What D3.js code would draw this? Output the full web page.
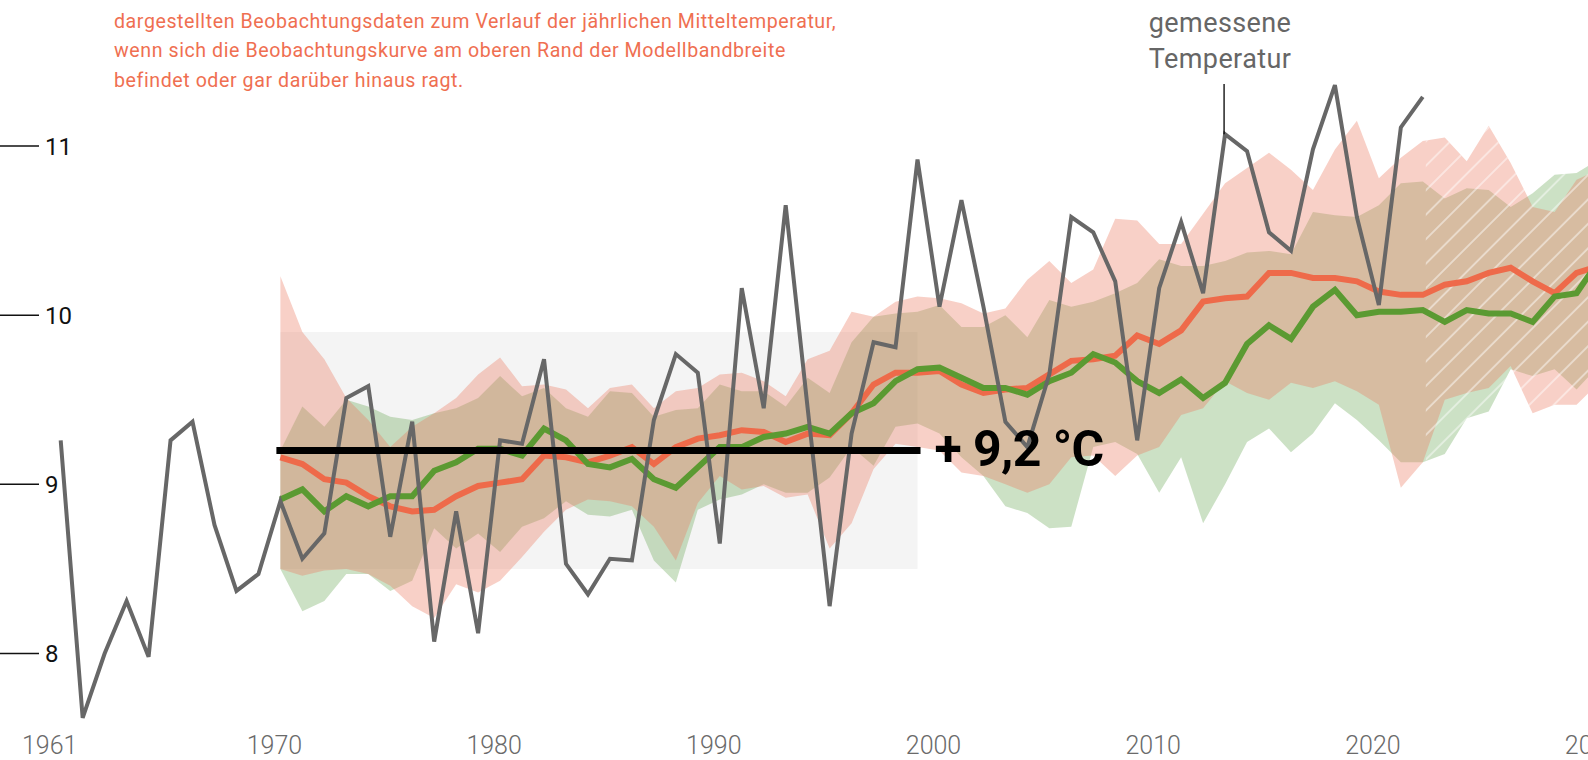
<!DOCTYPE html>
<html><head><meta charset="utf-8">
<script src="https://cdn.jsdelivr.net/npm/d3@7"></script>
<style>
html,body{margin:0;padding:0;background:#fff;overflow:hidden}
svg{display:block;font-family:Roboto,"DejaVu Sans",sans-serif}
</style></head><body>
<svg id="chart" width="1588" height="760"></svg>
<script>
// ---------- DATA ----------
const obsStart = 1961;
const observed = [9.26,7.62,8.00,8.31,7.98,9.26,9.37,8.76,8.37,8.47,
  8.90,8.56,8.71,9.51,9.58,8.69,9.37,8.07,8.84,8.12,
  9.26,9.24,9.74,8.53,8.35,8.56,8.55,9.38,9.77,9.66,
  8.65,10.16,9.45,10.65,9.45,8.28,9.30,9.84,9.81,10.92,
  10.05,10.68,10.05,9.37,9.22,9.65,10.58,10.49,10.20,9.26,
  10.16,10.55,10.13,11.07,10.97,10.49,10.38,10.98,11.36,10.58,
  10.06,11.11,11.29];

const modelStart = 1971;
const orangeMean = [9.16,9.12,9.03,9.01,8.93,8.87,8.84,8.85,8.93,8.99,
  9.01,9.03,9.17,9.16,9.13,9.17,9.22,9.12,9.22,9.27,
  9.29,9.32,9.31,9.25,9.30,9.29,9.42,9.59,9.66,9.66,
  9.67,9.59,9.54,9.56,9.57,9.65,9.73,9.74,9.76,9.88,
  9.83,9.91,10.08,10.10,10.11,10.25,10.25,10.22,10.22,10.20,
  10.14,10.12,10.12,10.18,10.20,10.25,10.28,10.20,10.13,10.25,10.29];
const greenMean = [8.91,8.97,8.84,8.93,8.87,8.93,8.93,9.08,9.13,9.21,
  9.21,9.17,9.33,9.26,9.12,9.10,9.15,9.03,8.98,9.10,
  9.22,9.22,9.28,9.30,9.34,9.30,9.42,9.48,9.61,9.68,
  9.69,9.63,9.57,9.57,9.53,9.61,9.66,9.77,9.72,9.61,
  9.54,9.62,9.51,9.60,9.83,9.94,9.86,10.05,10.15,10.00,
  10.02,10.02,10.03,9.96,10.03,10.01,10.01,9.96,10.11,10.13,10.32];
const orangeUpper = [10.23,9.90,9.74,9.51,9.38,9.22,9.34,9.42,9.51,9.65,
  9.75,9.58,9.59,9.56,9.45,9.57,9.59,9.45,9.55,9.57,
  9.65,9.66,9.61,9.52,9.74,9.79,10.02,9.99,10.08,10.11,
  10.10,10.07,10.01,10.04,10.21,10.32,10.19,10.27,10.57,10.56,
  10.42,10.42,10.60,10.78,10.87,10.96,10.86,10.74,10.98,11.15,
  10.81,10.93,11.03,11.05,10.91,11.12,10.90,10.64,10.61,10.80,10.86];
const orangeLower = [8.50,8.46,8.49,8.50,8.47,8.40,8.28,8.21,8.41,8.36,
  8.43,8.57,8.72,8.85,8.91,8.90,8.87,8.75,8.55,8.89,
  9.05,8.97,8.99,8.92,8.94,8.62,8.77,9.09,9.24,9.22,
  9.20,9.07,9.05,9.00,8.95,9.00,9.16,9.17,9.05,9.17,
  9.22,9.41,9.45,9.61,9.54,9.50,9.60,9.57,9.61,9.55,
  9.47,8.98,9.13,9.50,9.54,9.57,9.70,9.42,9.47,9.47,9.60];
const greenUpper = [9.20,9.46,9.34,9.50,9.46,9.40,9.38,9.42,9.45,9.51,
  9.64,9.52,9.57,9.45,9.40,9.55,9.54,9.40,9.44,9.45,
  9.59,9.55,9.55,9.46,9.63,9.54,9.84,9.99,10.01,10.02,
  10.06,9.93,9.93,10.00,9.87,10.09,10.05,10.08,10.13,10.19,
  10.33,10.29,10.29,10.32,10.37,10.38,10.36,10.61,10.59,10.58,
  10.65,10.78,10.79,10.69,10.75,10.74,10.64,10.72,10.83,10.84,10.92];
const greenLower = [8.50,8.25,8.31,8.47,8.47,8.37,8.43,8.74,8.62,8.71,
  8.60,8.75,8.80,8.90,8.82,8.81,8.85,8.55,8.42,8.85,
  8.91,8.94,9.00,8.95,8.95,9.04,9.22,9.11,9.34,9.36,
  9.30,9.16,9.05,8.87,8.83,8.74,8.75,9.22,9.25,9.18,
  8.95,9.16,8.77,9.00,9.25,9.33,9.19,9.30,9.48,9.38,
  9.26,9.13,9.13,9.18,9.39,9.43,9.68,9.64,9.68,9.56,9.70];

const refPeriod = [1971, 2000];
const refMean = 9.2;
const refBox = [8.5, 9.9];
const projectionStart = 2023;
const annotYear = 2014;

const yTicks = [8, 9, 10, 11];
const xTickYears = [1961, 1970, 1980, 1990, 2000, 2010, 2020, 2030];
const xTickLabels = ["1961", "1970", "1980", "1990", "2000", "2010", "2020", "2030"];
const textLines = [
  "dargestellten Beobachtungsdaten zum Verlauf der jährlichen Mitteltemperatur,",
  "wenn sich die Beobachtungskurve am oberen Rand der Modellbandbreite",
  "befindet oder gar darüber hinaus ragt."
];

// ---------- CHART ----------
const svg = d3.select("#chart");
const W = 1588, H = 760;
const x = d3.scaleLinear().domain([1961, 2023]).range([60.7, 1422.8]);
const y = d3.scaleLinear().domain([8, 11]).range([653.5, 146]);

const obs = observed.map((v, i) => ({year: obsStart + i, v}));
const model = orangeMean.map((v, i) => ({
  year: modelStart + i, om: v, gm: greenMean[i],
  ou: orangeUpper[i], ol: orangeLower[i], gu: greenUpper[i], gl: greenLower[i]
}));

const defs = svg.append("defs");
const pat = defs.append("pattern").attr("id", "hatch")
  .attr("patternUnits", "userSpaceOnUse").attr("width", 17.3).attr("height", 17.3)
  .attr("patternTransform", "rotate(45)");
pat.append("line").attr("x1", 1).attr("y1", 0).attr("x2", 1).attr("y2", 17.3)
  .attr("stroke", "#fff").attr("stroke-opacity", 0.55).attr("stroke-width", 1.6);
defs.append("clipPath").attr("id", "bandclip").append("path")
  .attr("d", d3.area().x(d => x(d.year)).y0(d => y(Math.min(d.ol, d.gl))).y1(d => y(Math.max(d.ou, d.gu)))(model));

// paragraph
svg.append("g").selectAll("text").data(textLines).join("text")
  .attr("x", 114).attr("y", (d, i) => 27.5 + i * 29.8)
  .attr("fill", "#ef6f51").attr("font-size", 19.6).attr("letter-spacing", 0.57)
  .text(d => d);

// y axis ticks
const yg = svg.append("g");
yg.selectAll("line").data(yTicks).join("line")
  .attr("x1", 0).attr("x2", 39).attr("y1", d => y(d)).attr("y2", d => y(d))
  .attr("stroke", "#111").attr("stroke-width", 1.5);
yg.selectAll("text").data(yTicks).join("text")
  .attr("x", 45).attr("y", d => y(d)).attr("dy", "0.36em")
  .attr("font-size", 24).attr("fill", "#111").text(d => d);

// x axis labels
svg.append("g").selectAll("text").data(xTickYears).join("text")
  .attr("x", (d, i) => i === 0 ? x(d) - 11 : x(d) + 16)
  .attr("y", 754).attr("text-anchor", "middle")
  .attr("font-size", 25).attr("font-weight", 300).attr("fill", "#6a6a6a")
  .text((d, i) => xTickLabels[i]);

// reference box
svg.append("rect")
  .attr("x", x(refPeriod[0])).attr("width", x(refPeriod[1]) - x(refPeriod[0]))
  .attr("y", y(refBox[1])).attr("height", y(refBox[0]) - y(refBox[1]))
  .attr("fill", "#f4f4f4");

// bands
svg.append("path").datum(model)
  .attr("d", d3.area().x(d => x(d.year)).y0(d => y(d.gl)).y1(d => y(d.gu)))
  .attr("fill", "rgb(100,165,80)").attr("fill-opacity", 0.33);
svg.append("path").datum(model)
  .attr("d", d3.area().x(d => x(d.year)).y0(d => y(d.ol)).y1(d => y(d.ou)))
  .attr("fill", "rgb(236,120,95)").attr("fill-opacity", 0.35);

// hatch over projection part
svg.append("rect").attr("clip-path", "url(#bandclip)")
  .attr("x", x(projectionStart) + 3).attr("y", 0)
  .attr("width", W - x(projectionStart)).attr("height", H)
  .attr("fill", "url(#hatch)");

// model mean lines
svg.append("path").datum(model)
  .attr("d", d3.line().x(d => x(d.year)).y(d => y(d.om)))
  .attr("fill", "none").attr("stroke", "#ee6a4a").attr("stroke-width", 6);
svg.append("path").datum(model)
  .attr("d", d3.line().x(d => x(d.year)).y(d => y(d.gm)))
  .attr("fill", "none").attr("stroke", "#5b9a32").attr("stroke-width", 6);

// observed line
svg.append("path").datum(obs)
  .attr("d", d3.line().x(d => x(d.year)).y(d => y(d.v)))
  .attr("fill", "none").attr("stroke", "#676767").attr("stroke-width", 4)
  .attr("stroke-linejoin", "miter");

// reference mean line + label
svg.append("line")
  .attr("x1", x(refPeriod[0]) - 4).attr("x2", x(refPeriod[1]) + 3)
  .attr("y1", y(refMean)).attr("y2", y(refMean))
  .attr("stroke", "#000").attr("stroke-width", 7);
svg.append("text").attr("x", x(refPeriod[1]) + 17).attr("y", y(refMean) + 15)
  .attr("font-size", 50).attr("font-weight", 700).attr("fill", "#000")
  .attr("letter-spacing", -0.6)
  .text("+ " + String(refMean).replace(".", ",") + " °C");

// annotation for observed
const ay = observed[annotYear - obsStart];
svg.append("line").attr("x1", x(annotYear) - 1).attr("x2", x(annotYear) - 1)
  .attr("y1", 84).attr("y2", y(ay)).attr("stroke", "#000").attr("stroke-width", 1.3);
const ann = svg.append("text").attr("text-anchor", "middle")
  .attr("font-size", 27).attr("fill", "#666").attr("letter-spacing", 0.4);
ann.append("tspan").attr("x", x(annotYear) - 5).attr("y", 32).text("gemessene");
ann.append("tspan").attr("x", x(annotYear) - 5).attr("y", 68).text("Temperatur");
</script>
</body></html>
